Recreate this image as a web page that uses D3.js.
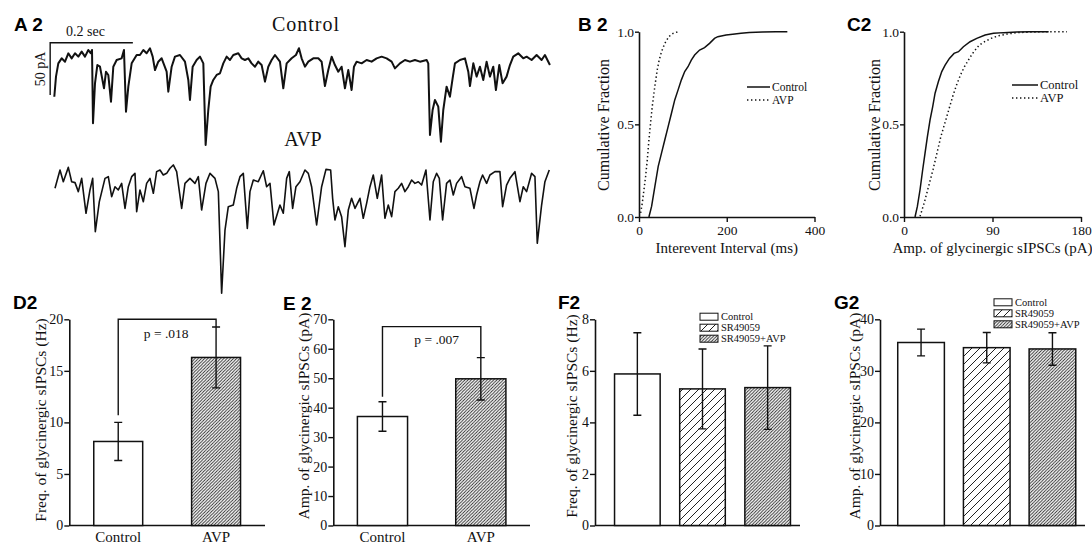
<!DOCTYPE html>
<html><head><meta charset="utf-8">
<script src="https://cdn.jsdelivr.net/npm/d3@7"></script>
<style>
body{margin:0;background:#fff}
svg text{font-family:"Liberation Serif","Times New Roman",serif;fill:#111}
</style>
</head><body>
<svg id="c" width="1092" height="546"></svg>
<script>
// ================= DATA =================
// A2 traces: time (ms), current (pA, relative to baseline)
const controlTraceT=[0,4.1,9.7,17.8,25.9,33.9,42.0,50.1,58.1,66.2,74.2,82.3,87.9,91.2,93.6,98.4,104.1,110.5,120.2,125.0,130.6,137.1,142.7,150.8,162.9,168.5,173.4,179.0,187.1,199.2,207.2,215.3,223.3,231.4,237.9,243.5,251.5,259.6,271.7,275.7,283.8,291.8,303.9,316.0,324.1,328.1,334.6,344.2,352.3,360.4,366.0,372.4,378.1,384.5,392.6,400.7,408.7,416.8,424.8,432.9,445.0,453.1,461.1,469.2,477.2,485.3,493.3,501.4,509.5,517.5,525.6,533.7,545.7,553.8,561.9,574.0,584.4,591.7,598.1,606.2,614.3,626.3,638.4,646.5,654.5,662.6,670.7,678.7,686.8,694.8,702.9,711.0,719.0,724.7,731.1,743.2,755.3,767.4,779.5,791.6,803.7,815.8,823.8,835.9,848.0,860.1,872.2,884.3,900.4,904.4,908.5,914.9,920.5,928.6,935.0,940.7,948.7,956.8,963.3,968.9,981.0,993.1,1001.2,1005.2,1013.3,1021.3,1029.4,1037.4,1045.5,1053.5,1061.6,1068.0,1076.1,1084.2,1093.8,1101.9,1109.9,1122.0,1134.1,1142.2,1154.3,1166.4,1178.5,1186.5,1198.6];
const controlTraceI=[-35.1,-15.9,-3.2,1.6,-1.6,6.4,1.6,6.4,3.2,8.0,3.2,9.6,6.4,9.6,-60.5,-22.3,-4.8,-6.4,-27.1,-11.2,-14.3,-39.8,-6.4,0,1.6,9.6,-49.4,-25.5,-3.2,4.8,4.8,9.6,6.4,11.2,3.2,-9.6,-1.6,1.6,-11.2,-30.3,-6.4,3.2,4.8,-1.6,-19.1,-38.2,-6.4,0,3.2,-3.2,-81.3,-47.8,-25.5,-19.1,-14.3,-12.7,-3.2,3.2,0,4.8,6.4,1.6,0,1.6,-3.2,-6.4,-1.6,-4.8,-20.7,-6.4,0,4.8,-1.6,-27.1,-3.2,1.6,4.8,11.2,1.6,-6.4,-1.6,1.6,1.6,-1.6,-24.9,-9.6,3.2,-4.8,-11.2,-6.4,-27.1,-9.6,-28.7,-6.4,-1.6,-3.2,0,-1.6,1.6,3.2,1.6,-1.6,-8.0,-3.2,0,-1.6,0,-1.6,0,-3.2,-71.7,-47.8,-38.2,-44.6,-78.1,-47.8,-25.5,-35.1,-17.5,-3.2,0,1.6,-11.2,-24.9,-3.2,-15.9,-6.4,-19.1,-1.6,-15.9,-6.4,-28.7,-4.8,-22.3,-15.9,-4.8,3.2,6.4,1.6,3.2,0,4.8,0,4.8,-4.8];
const avpTraceT=[1.7,13.8,21.8,33.9,42.0,50.1,58.1,66.2,76.7,86.3,92.8,99.2,108.9,122.6,130.6,138.7,146.8,154.8,162.9,171.0,179.0,187.1,195.1,199.2,207.2,215.3,223.3,231.4,239.5,247.5,255.6,263.6,271.7,279.8,287.8,295.9,308.0,316.0,328.1,340.2,348.3,356.3,366.8,376.5,388.6,396.7,404.7,412.8,420.8,432.9,441.0,449.0,457.1,466.8,473.2,481.3,493.3,505.4,513.5,521.6,531.2,545.7,553.8,561.9,568.3,576.4,584.4,594.1,606.2,614.3,622.3,634.4,646.5,657.0,668.3,673.1,678.7,686.8,694.8,702.9,711.0,719.0,727.1,739.2,747.2,755.3,763.4,771.4,781.1,791.6,799.6,807.7,815.8,823.8,831.9,839.9,848.0,856.1,864.1,872.2,880.3,888.3,898.8,908.5,916.5,924.6,931.1,939.1,948.7,956.8,964.9,972.9,985.0,993.1,1005.2,1014.9,1021.3,1029.4,1035.8,1045.5,1053.5,1065.6,1077.7,1084.2,1093.8,1101.9,1114.0,1126.1,1134.1,1142.2,1154.3,1162.4,1168.0,1178.5,1186.5,1197.0];
const avpTraceI=[-12.7,4.8,-6.4,7.3,-6.4,-7.3,-15.9,-3.2,-36.6,-14.3,-3.2,-54.2,-25.5,-3.2,-1.6,-20.7,-11.2,-14.3,-8.0,-31.9,-11.2,-1.6,1.6,-35.1,-14.3,-25.5,-8.0,-3.2,-17.5,3.2,4.8,0,1.6,6.4,9.6,3.2,-31.9,-8.0,-3.2,-8.0,-1.6,-33.5,-8.0,1.6,-3.2,-15.9,-113.1,-52.6,-30.3,-28.7,-12.7,-1.6,1.6,-51.0,-15.9,-4.8,-6.4,4.1,-11.2,-8.0,-47.8,-28.7,-36.6,-3.2,3.2,-31.9,-11.2,-6.4,4.8,1.6,-11.2,-47.8,-11.2,5.4,4.8,-22.3,-43.0,-30.3,-39.8,-68.5,-33.5,-22.3,-31.9,-22.3,-41.4,-27.1,-11.2,0,-22.3,0,-41.4,-28.7,-39.8,-15.9,-12.7,-8.0,-15.9,-11.2,-4.8,-8.0,-6.4,-9.6,4.8,-43.0,-6.4,1.6,-3.2,-43.0,-8.0,-4.8,-19.1,-8.0,-1.6,-11.2,-12.7,-31.9,-19.1,-6.4,0,-8.0,0,3.2,3.2,-30.3,-9.6,-3.2,3.2,-25.5,-11.2,-15.9,1.6,-1.6,-65.3,-28.7,-6.4,4.8];

// B2: cumulative fraction of inter-event interval (ms)
const intervalControlX=[22.6,28.7,36.2,43.8,51.3,58.9,66.4,74.0,81.5,89.1,96.6,104.2,111.7,119.2,126.8,138.1,149.4,160.8,172.1,179.6,198.5,213.6,232.5,251.3,281.5,311.7,338.1];
const intervalControlY=[0,0.057,0.165,0.273,0.345,0.417,0.488,0.560,0.632,0.686,0.740,0.785,0.811,0.847,0.874,0.901,0.914,0.937,0.964,0.973,0.982,0.986,0.991,0.996,0.998,1.0,1.0];
const intervalAvpX=[3.8,7.5,11.3,15.1,18.9,22.6,26.4,30.2,34.0,37.7,41.5,46.0,51.3,58.9,67.9,77.7,89.1];
const intervalAvpY=[0.022,0.075,0.147,0.219,0.309,0.417,0.506,0.596,0.668,0.731,0.794,0.847,0.892,0.937,0.973,0.991,1.0];

// C2: cumulative fraction of amplitude (pA)
const ampCumControlX=[11.2,13.6,16.3,19.0,21.4,23.8,26.5,29.2,31.6,35.0,38.4,41.8,46.2,50.9,55.4,60.4,67.2,74.0,82.5,91.0,101.2,114.8,128.4,147.1];
const ampCumControlY=[0,0.057,0.147,0.255,0.345,0.434,0.524,0.596,0.668,0.731,0.785,0.820,0.856,0.883,0.892,0.919,0.946,0.964,0.982,0.991,0.995,0.998,1.0,1.0];
const ampCumAvpX=[16.3,20.5,25.0,29.5,33.5,37.5,41.5,45.5,49.5,53.5,57.5,61.5,66.5,71.0,76.5,82.0,88.5,95.5,104.6,114.8,128.4,145.3,165.7];
const ampCumAvpY=[0.004,0.075,0.165,0.255,0.345,0.434,0.506,0.578,0.650,0.713,0.767,0.811,0.856,0.892,0.928,0.946,0.964,0.977,0.987,0.995,0.998,1.0,1.0];

// D2 / E2
const pairCategories=["Control","AVP"];
const freqMeans=[8.15,16.3];
const freqErrs=[1.85,2.95];
const ampMeans=[37.0,49.8];
const ampErrs=[5.0,7.2];
// F2 / G2
const srCategories=["Control","SR49059","SR49059+AVP"];
const srFreqMeans=[5.88,5.3,5.35];
const srFreqErrs=[1.6,1.55,1.62];
const srAmpMeans=[35.5,34.5,34.25];
const srAmpErrs=[2.6,2.95,3.15];

// tick values
const freqTicks=[0,5,10,15,20];
const ampTicks=[0,10,20,30,40,50,60,70];
const srFreqTicks=[0,2,4,6,8];
const srAmpTicks=[0,10,20,30,40];
const cumTicks=[0,0.5,1.0];
const intervalTicks=[0,200,400];
const ampCumTicks=[0,90,180];

// ================= DRAW =================
const svg=d3.select("#c");
const defs=svg.append("defs");
function hatch(id,s,w){
  const p=defs.append("pattern").attr("id",id).attr("patternUnits","userSpaceOnUse").attr("width",s).attr("height",s);
  p.append("rect").attr("width",s).attr("height",s).attr("fill","#fff");
  p.append("path").attr("d",`M0,${s} L${s},0 M${-s/2},${s/2} L${s/2},${-s/2} M${s/2},${s*1.5} L${s*1.5},${s/2}`)
    .attr("stroke","#222").attr("stroke-width",w);
}
hatch("dense",3.2,0.9);
hatch("sparse",8,1);

function panelLabel(txt,x,y){
  svg.append("text").attr("x",x).attr("y",y).text(txt)
    .style("font-family","'Liberation Sans',Arial,sans-serif").style("font-weight","bold").style("font-size","19px").style("fill","#000");
}
function styleAxis(g,fs){
  g.attr("font-family","Liberation Serif").attr("font-size",fs);
  g.select(".domain").attr("stroke","#111").attr("stroke-width",1.6);
  g.selectAll(".tick line").attr("stroke","#111").attr("stroke-width",1.4);
  g.selectAll(".tick text").style("font-size",fs+"px").style("font-family","'Liberation Serif',serif").attr("fill","#111");
}
function rotTitle(txt,x,y,fs){
  svg.append("text").attr("transform",`translate(${x},${y}) rotate(-90)`).attr("text-anchor","middle")
    .style("font-size",fs+"px").text(txt);
}

// ---------- A2 ----------
panelLabel("A 2",14,31);
const tScale=d3.scaleLinear().domain([0,200]).range([54.3,137.0]);
const ctrlY=d3.scaleLinear().domain([0,-50]).range([60,112.3]);
const avpY=d3.scaleLinear().domain([0,-50]).range([175,227.3]);
function drawTrace(T,I,yS,w){
  svg.append("path").datum(d3.zip(T,I))
    .attr("d",d3.line().x(d=>tScale(d[0])).y(d=>yS(d[1])))
    .attr("fill","none").attr("stroke","#111").attr("stroke-width",w).attr("stroke-linejoin","round");
}
drawTrace(controlTraceT,controlTraceI,ctrlY,2.0);
drawTrace(avpTraceT,avpTraceI,avpY,1.6);
// scale bar: 200 ms, 50 pA
const sbT0=-10, sbI0=16.5;
svg.append("path").attr("d",`M${tScale(sbT0+200)},${ctrlY(sbI0)} L${tScale(sbT0)},${ctrlY(sbI0)} L${tScale(sbT0)},${ctrlY(sbI0-50)}`)
  .attr("fill","none").attr("stroke","#111").attr("stroke-width",1.4);
svg.append("text").attr("x",(tScale(sbT0)+tScale(sbT0+200))/2-6).attr("y",ctrlY(sbI0)-7).attr("text-anchor","middle").style("font-size","14px").text("0.2 sec");
rotTitle("50 pA",tScale(sbT0)-5,ctrlY(sbI0-25),14);
svg.append("text").attr("x",306).attr("y",30.5).attr("text-anchor","middle").style("font-size","20px").style("letter-spacing","1px").text("Control");
svg.append("text").attr("x",303).attr("y",145.5).attr("text-anchor","middle").style("font-size","20px").text("AVP");

// ---------- cumulative panels ----------
function cumPanel(o){
  const x=d3.scaleLinear().domain(o.xDomain).range([o.x0,o.x1]);
  const y=d3.scaleLinear().domain([0,1]).range([217,31.7]);
  const gx=svg.append("g").attr("transform","translate(0,217)")
    .call(d3.axisBottom(x).tickValues(o.xTicks).tickSize(5).tickSizeOuter(0).tickPadding(3).tickFormat(d3.format("d")));
  styleAxis(gx,13.5);
  const gy=svg.append("g").attr("transform",`translate(${o.x0},0)`)
    .call(d3.axisLeft(y).tickValues(cumTicks).tickSize(4).tickSizeOuter(0).tickPadding(1).tickFormat(d3.format(".1f")));
  styleAxis(gy,13.5);
  const line=d3.line().x(d=>x(d[0])).y(d=>y(d[1]));
  svg.append("path").datum(d3.zip(o.cX,o.cY)).attr("d",line).attr("fill","none").attr("stroke","#111").attr("stroke-width",1.5);
  svg.append("path").datum(d3.zip(o.aX,o.aY)).attr("d",line).attr("fill","none").attr("stroke","#111").attr("stroke-width",1.5).attr("stroke-dasharray","1.4,2.6");
  rotTitle("Cumulative Fraction",o.titleX,125,16);
  svg.append("text").attr("x",(o.x0+o.x1)/2).attr("y",253).attr("text-anchor","middle").style("font-size","15px").text(o.xTitle);
  // legend
  svg.append("line").attr("x1",o.lx).attr("x2",o.lx+o.lw).attr("y1",o.ly).attr("y2",o.ly).attr("stroke","#111").attr("stroke-width",1.5);
  svg.append("line").attr("x1",o.lx).attr("x2",o.lx+o.lw).attr("y1",o.ly+13).attr("y2",o.ly+13).attr("stroke","#111").attr("stroke-width",1.5).attr("stroke-dasharray","1.4,2.6");
  svg.append("text").attr("x",o.lx+o.lw+2).attr("y",o.ly+4).style("font-size",o.lfs+"px").text("Control");
  svg.append("text").attr("x",o.lx+o.lw+2).attr("y",o.ly+17).style("font-size",o.lfs+"px").text("AVP");
}
panelLabel("B 2",578,31);
cumPanel({xDomain:[0,400],x0:639,x1:814.5,xTicks:intervalTicks,cX:intervalControlX,cY:intervalControlY,aX:intervalAvpX,aY:intervalAvpY,
  titleX:609,xTitle:"Interevent Interval (ms)",lx:747,lw:23,ly:87,lfs:11.5});
panelLabel("C2",847,31);
cumPanel({xDomain:[0,180],x0:904,x1:1081,xTicks:ampCumTicks,cX:ampCumControlX,cY:ampCumControlY,aX:ampCumAvpX,aY:ampCumAvpY,
  titleX:880,xTitle:"Amp. of glycinergic sIPSCs (pA)",lx:1012,lw:26,ly:85,lfs:12.5});

// ---------- bar panels ----------
function barPanel(o){
  const y=d3.scaleLinear().domain([0,o.yMax]).range([525.5,319.3]);
  const x=d3.scaleBand().domain(o.cats).range(o.bandRange).paddingInner(o.pi).paddingOuter(o.po);
  const gy=svg.append("g").attr("transform",`translate(${o.axisX},0)`)
    .call(d3.axisLeft(y).tickValues(o.ticks).tickSize(5).tickSizeOuter(0).tickPadding(1).tickFormat(d3.format("d")));
  styleAxis(gy,14);
  svg.append("line").attr("x1",o.axisX).attr("x2",o.axisEnd).attr("y1",y(0)).attr("y2",y(0)).attr("stroke","#111").attr("stroke-width",1.6);
  o.cats.forEach((c,i)=>{
    svg.append("rect").attr("x",x(c)).attr("width",x.bandwidth()).attr("y",y(o.means[i])).attr("height",y(0)-y(o.means[i]))
      .attr("fill",o.fills[i]).attr("stroke","#111").attr("stroke-width",1.5);
    const cx=x(c)+x.bandwidth()/2;
    const lo=y(o.means[i]-o.errs[i]), hi=y(o.means[i]+o.errs[i]);
    svg.append("path").attr("d",`M${cx},${lo} L${cx},${hi} M${cx-4},${lo} L${cx+4},${lo} M${cx-4},${hi} L${cx+4},${hi}`)
      .attr("stroke","#111").attr("stroke-width",1.4).attr("fill","none");
  });
  rotTitle(o.title,o.titleX,o.titleY,15.5);
  if(o.catLabels){
    o.cats.forEach(c=>svg.append("text").attr("x",x(c)+x.bandwidth()/2).attr("y",542).attr("text-anchor","middle").style("font-size","15px").text(c));
  }
  if(o.bracket){
    const b=o.bracket;
    const c0=x(o.cats[0])+x.bandwidth()/2, c1=x(o.cats[1])+x.bandwidth()/2;
    svg.append("path").attr("d",`M${c0},${y(b.low0)} L${c0},${y(b.top)} L${c1},${y(b.top)} L${c1},${y(o.means[1]+o.errs[1])}`)
      .attr("fill","none").attr("stroke","#111").attr("stroke-width",1.4);
    svg.append("text").attr("x",(c0+c1)/2+b.dx).attr("y",y(b.textV)).attr("text-anchor","middle").style("font-size","13.5px").text(b.text);
  }
  if(o.legend){
    const L=o.legend;
    o.cats.forEach((c,i)=>{
      const cy=L.y+i*11;
      svg.append("rect").attr("x",L.x).attr("y",cy-3.5).attr("width",18).attr("height",7).attr("fill",o.fills[i]).attr("stroke","#111").attr("stroke-width",1);
      svg.append("text").attr("x",L.x+21).attr("y",cy+3.5).style("font-size","10.5px").text(c);
    });
  }
}
panelLabel("D2",13,309);
barPanel({cats:pairCategories,means:freqMeans,errs:freqErrs,yMax:20,ticks:freqTicks,axisX:69.3,axisEnd:265,bandRange:[69.3,265],pi:0.5,po:0.25,
  fills:["#fff","url(#dense)"],title:"Freq. of glycinergic sIPSCs (Hz)",titleX:46,titleY:420,catLabels:true,
  bracket:{low0:10.7,top:20,textV:18.2,text:"p = .018",dx:-1}});
panelLabel("E 2",283,310);
barPanel({cats:pairCategories,means:ampMeans,errs:ampErrs,yMax:70,ticks:ampTicks,axisX:333.3,axisEnd:530,bandRange:[333.3,530],pi:0.49,po:0.245,
  fills:["#fff","url(#dense)"],title:"Amp. of glycinergic sIPSCs (pA)",titleX:309,titleY:416,catLabels:true,
  bracket:{low0:43.75,top:67.5,textV:61.6,text:"p = .007",dx:5}});
panelLabel("F2",558,309);
barPanel({cats:srCategories,means:srFreqMeans,errs:srFreqErrs,yMax:8,ticks:srFreqTicks,axisX:595,axisEnd:800,bandRange:[595,810],pi:0.3,po:0.3,
  fills:["#fff","url(#sparse)","url(#dense)"],title:"Freq. of glycinergic sIPSCs (Hz)",titleX:577,titleY:416,
  legend:{x:700,y:316.7}});
panelLabel("G2",834,309);
barPanel({cats:srCategories,means:srAmpMeans,errs:srAmpErrs,yMax:40,ticks:srAmpTicks,axisX:880,axisEnd:1085,bandRange:[880,1093.5],pi:0.29,po:0.27,
  fills:["#fff","url(#sparse)","url(#dense)"],title:"Amp. of glycinergic sIPSCs (pA)",titleX:860,titleY:416,
  legend:{x:994,y:302.3}});
</script>
</body></html>
